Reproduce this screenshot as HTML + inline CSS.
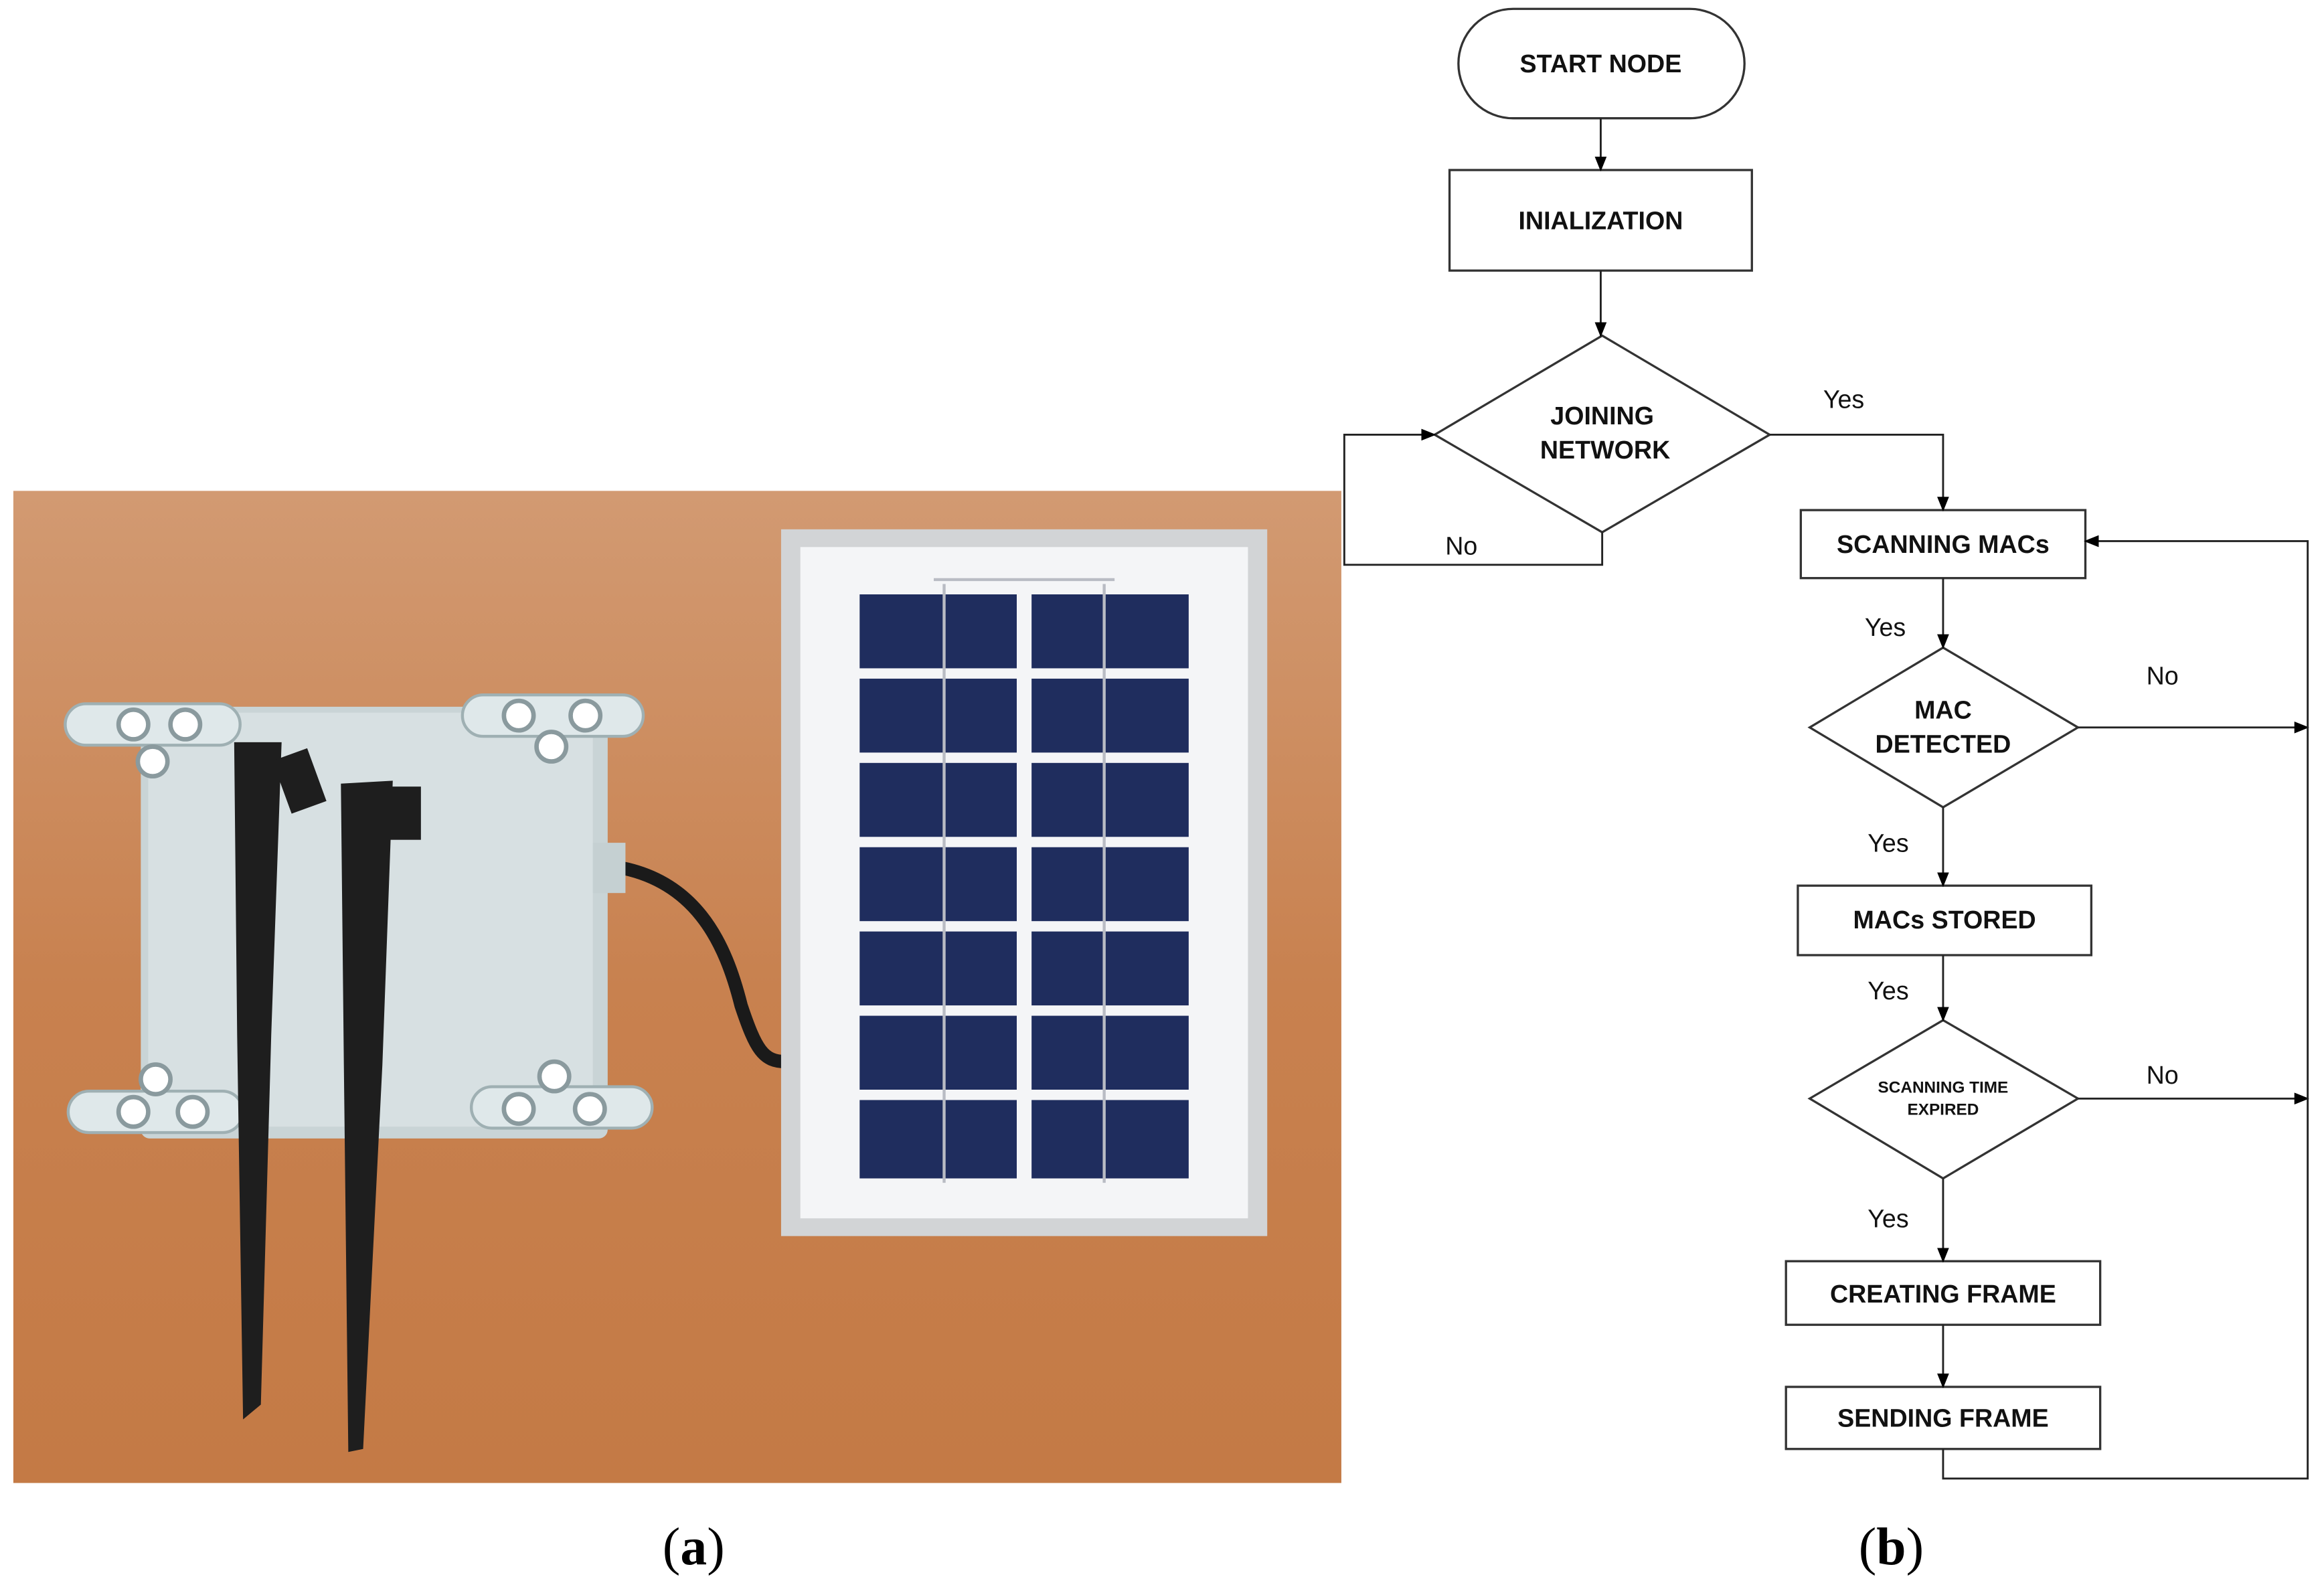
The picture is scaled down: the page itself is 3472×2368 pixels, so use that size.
<!DOCTYPE html>
<html><head><meta charset="utf-8"><style>html,body{margin:0;padding:0;background:#fff}svg{display:block}</style></head>
<body>
<svg width="3472" height="2368" viewBox="0 0 1568 1072" preserveAspectRatio="none" xmlns="http://www.w3.org/2000/svg">
<defs>
<linearGradient id="wood" x1="0" y1="0" x2="0" y2="1">
<stop offset="0" stop-color="#d29a72"/><stop offset="0.5" stop-color="#c8814f"/><stop offset="1" stop-color="#c47a45"/>
</linearGradient>
<marker id="ah" markerWidth="10" markerHeight="10" refX="9" refY="5" orient="auto" markerUnits="userSpaceOnUse"><path d="M0,1 L10,5 L0,9 z" fill="#000"/></marker>
</defs>
<rect width="1568" height="1072" fill="#fff"/>
<!-- photo -->
<rect x="9" y="332" width="896" height="671" fill="url(#wood)"/>
<!-- cable -->
<path d="M405,585 C470,590 490,640 500,680 C510,710 515,718 530,718" stroke="#1a1a1a" stroke-width="9" fill="none"/>
<!-- enclosure -->
<rect x="95" y="478" width="315" height="292" rx="6" fill="#c9d4d6"/>
<rect x="100" y="482" width="300" height="280" fill="#d7e0e2"/>
<rect x="400" y="570" width="22" height="34" fill="#c5d0d2"/>
<g fill="#dfe8ea" stroke="#9fb0b3" stroke-width="2">
<rect x="44" y="476" width="118" height="28" rx="14"/><rect x="312" y="470" width="122" height="28" rx="14"/>
<rect x="46" y="738" width="118" height="28" rx="14"/><rect x="318" y="735" width="122" height="28" rx="14"/>
</g>
<g fill="#fff" stroke="#8a9a9e" stroke-width="3">
<circle cx="90" cy="490" r="10"/><circle cx="125" cy="490" r="10"/><circle cx="103" cy="515" r="10"/>
<circle cx="350" cy="484" r="10"/><circle cx="395" cy="484" r="10"/><circle cx="372" cy="505" r="10"/>
<circle cx="90" cy="752" r="10"/><circle cx="130" cy="752" r="10"/><circle cx="105" cy="730" r="10"/>
<circle cx="350" cy="750" r="10"/><circle cx="398" cy="750" r="10"/><circle cx="374" cy="728" r="10"/>
</g>
<!-- antennas -->
<path d="M158,502 L190,502 L183,700 L176,950 L164,960 L160,700 z" fill="#1e1e1e"/>
<path d="M230,530 L265,528 L258,720 L245,980 L235,982 L232,720 z" fill="#1e1e1e"/>
<rect x="190" y="510" width="25" height="38" fill="#1e1e1e" transform="rotate(-20 200 530)"/>
<rect x="262" y="532" width="22" height="36" fill="#1e1e1e"/>
<!-- solar panel -->
<rect x="527" y="358" width="328" height="478" fill="#d2d4d6"/>
<rect x="540" y="370" width="302" height="454" fill="#f4f5f7"/>
<g fill="#1f2d5e">
<rect x="580" y="402" width="106" height="50"/><rect x="696" y="402" width="106" height="50"/>
<rect x="580" y="459" width="106" height="50"/><rect x="696" y="459" width="106" height="50"/>
<rect x="580" y="516" width="106" height="50"/><rect x="696" y="516" width="106" height="50"/>
<rect x="580" y="573" width="106" height="50"/><rect x="696" y="573" width="106" height="50"/>
<rect x="580" y="630" width="106" height="50"/><rect x="696" y="630" width="106" height="50"/>
<rect x="580" y="687" width="106" height="50"/><rect x="696" y="687" width="106" height="50"/>
<rect x="580" y="744" width="106" height="53"/><rect x="696" y="744" width="106" height="53"/>
</g>
<g stroke="#b9bcc4" stroke-width="2" fill="none"><path d="M637,395 V800 M745,395 V800 M630,392 H752"/></g>
<!-- flowchart -->
<g fill="#fff" stroke="#333" stroke-width="1.5">
<rect x="984" y="6" width="193" height="74" rx="37"/>
<rect x="978" y="115" width="204" height="68"/>
<polygon points="968,294 1081,227 1194,294 1081,360"/>
<rect x="1215" y="345" width="192" height="46"/>
<polygon points="1221,492 1311,438 1402,492 1311,546"/>
<rect x="1213" y="599" width="198" height="47"/>
<polygon points="1221,743 1311,690 1402,743 1311,797"/>
<rect x="1205" y="853" width="212" height="43"/>
<rect x="1205" y="938" width="212" height="42"/>
</g>
<g stroke="#222" stroke-width="1.3" fill="none" marker-end="url(#ah)">
<path d="M1080,80 V115"/><path d="M1080,183 V227"/>
<path d="M1081,360 V382 H907 V294 H968"/>
<path d="M1194,294 H1311 V345"/>
<path d="M1311,391 V438"/>
<path d="M1402,492 H1557"/>
<path d="M1311,546 V599"/>
<path d="M1311,646 V690"/>
<path d="M1402,743 H1557"/>
<path d="M1311,797 V853"/>
<path d="M1311,896 V938"/>
<path d="M1311,980 V1000 H1557 V366 H1407"/>
</g>
<g font-family="Liberation Sans, sans-serif" font-weight="bold" font-size="17" text-anchor="middle" fill="#111">
<text x="1080" y="49">START NODE</text>
<text x="1080" y="155">INIALIZATION</text>
<text x="1081" y="287">JOINING</text><text x="1083" y="310">NETWORK</text>
<text x="1311" y="374">SCANNING MACs</text>
<text x="1311" y="486">MAC</text><text x="1311" y="509">DETECTED</text>
<text x="1312" y="628">MACs STORED</text>
<text x="1311" y="881">CREATING FRAME</text>
<text x="1311" y="965">SENDING FRAME</text>
<text x="1311" y="739" font-size="11">SCANNING TIME</text><text x="1311" y="754" font-size="11">EXPIRED</text>
</g>
<g font-family="Liberation Sans, sans-serif" font-size="17" text-anchor="middle" fill="#111">
<text x="1244" y="276">Yes</text><text x="986" y="375">No</text>
<text x="1272" y="430">Yes</text><text x="1459" y="463">No</text>
<text x="1274" y="576">Yes</text><text x="1274" y="676">Yes</text>
<text x="1459" y="733">No</text><text x="1274" y="830">Yes</text>
</g>
<g font-family="Liberation Serif, serif" font-size="36" text-anchor="middle" fill="#000">
<text x="468" y="1058">(<tspan font-weight="bold">a</tspan>)</text>
<text x="1276" y="1058">(<tspan font-weight="bold">b</tspan>)</text>
</g>
</svg>
</body></html>
